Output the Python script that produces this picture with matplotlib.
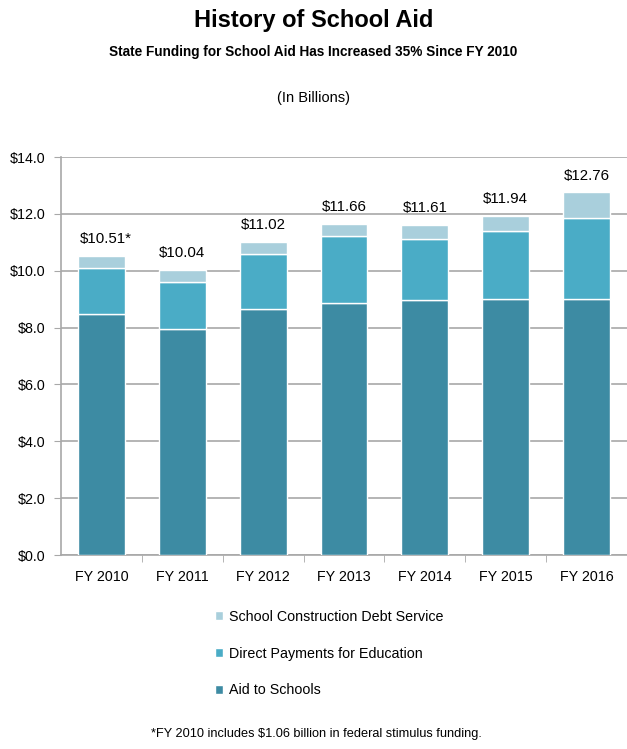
import numpy as np
import matplotlib.pyplot as plt
from matplotlib.ticker import FuncFormatter, FixedLocator

plt.rcParams['font.family'] = ['Liberation Sans', 'DejaVu Sans']

anios = ['FY 2010', 'FY 2011', 'FY 2012', 'FY 2013', 'FY 2014', 'FY 2015', 'FY 2016']
ayuda_escuelas = [8.47, 7.95, 8.64, 8.85, 8.96, 8.99, 9.00]
pagos_directos = [1.64, 1.66, 1.95, 2.38, 2.17, 2.42, 2.86]
deuda_construccion = [0.40, 0.43, 0.43, 0.43, 0.48, 0.53, 0.90]
totales = ['$10.51*', '$10.04', '$11.02', '$11.66', '$11.61', '$11.94', '$12.76']

color_ayuda = '#3d8ba3'
color_pagos = '#4aacc6'
color_deuda = '#a9cfdc'
gris = '#a8a8a8'

fig = plt.figure(figsize=(6.27, 7.49), dpi=100)
ax = fig.add_axes([61 / 627, 1 - 555 / 749, 1 - 61 / 627, (555 - 157) / 749])

x = np.arange(len(anios))
a = np.array(ayuda_escuelas)
p = np.array(pagos_directos)
d = np.array(deuda_construccion)
ancho = 0.58

b1 = ax.bar(x, a, ancho, color=color_ayuda, edgecolor='white', linewidth=1, zorder=3,
            label='Aid to Schools')
b2 = ax.bar(x, p, ancho, bottom=a, color=color_pagos, edgecolor='white', linewidth=1, zorder=3,
            label='Direct Payments for Education')
b3 = ax.bar(x, d, ancho, bottom=a + p, color=color_deuda, edgecolor='white', linewidth=1, zorder=3,
            label='School Construction Debt Service')

for i, t in enumerate(totales):
    dx = 3 if t.endswith('*') else 0
    ax.annotate(t, (x[i], a[i] + p[i] + d[i]), xytext=(dx, 7), textcoords='offset points',
                ha='center', va='bottom', fontsize=10.8)

ax.set_xlim(-0.5, len(anios) - 0.5)
ax.set_ylim(0, 14)
ax.set_yticks(np.arange(0, 14.1, 2))
ax.yaxis.set_major_formatter(FuncFormatter(lambda v, pos: f'${v:.1f}'))
ax.grid(axis='y', color=gris, linewidth=1.2, zorder=0)

ax.set_xticks(x)
ax.set_xticklabels(anios)
ax.tick_params(axis='x', which='major', length=0, pad=11, labelsize=10.3)
ax.xaxis.set_minor_locator(FixedLocator(x[:-1] + 0.5))
ax.tick_params(axis='x', which='minor', length=5, color=gris, direction='out')
ax.tick_params(axis='y', length=5, color=gris, pad=6, labelsize=10.3)

for lado in ['top', 'right']:
    ax.spines[lado].set_visible(False)
for lado in ['left', 'bottom']:
    ax.spines[lado].set_color(gris)
    ax.spines[lado].set_linewidth(1.2)

fig.text(0.5, 1 - 20 / 749, 'History of School Aid', ha='center', va='center',
         fontsize=17, fontweight='bold')
fig.text(0.5, 1 - 52 / 749, 'State Funding for School Aid Has Increased 35% Since FY 2010',
         ha='center', va='center', fontsize=9.8, fontweight='bold')
fig.text(0.5, 1 - 98 / 749, '(In Billions)', ha='center', va='center', fontsize=10.5)

fig.legend(handles=[b3, b2, b1], loc='upper left', bbox_to_anchor=(209 / 627, 1 - 604 / 749),
           frameon=False, fontsize=10.3, handlelength=0.55, handleheight=0.55,
           handletextpad=0.45, labelspacing=1.6, borderaxespad=0)

fig.text(0.5 + 3 / 627, 1 - 734 / 749, '*FY 2010 includes $1.06 billion in federal stimulus funding.',
         ha='center', va='center', fontsize=9.2)

fig.savefig('out.png', dpi=100)
